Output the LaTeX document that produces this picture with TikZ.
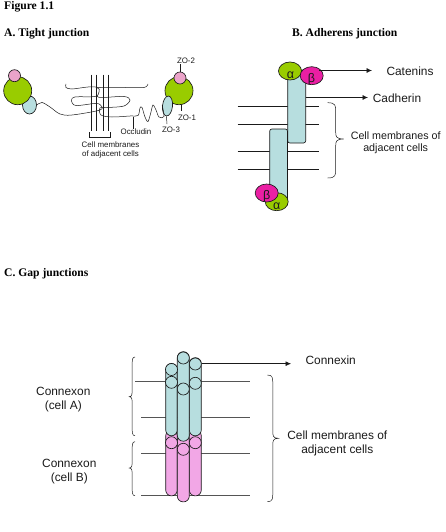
\documentclass[tikz,border=0pt]{standalone}
\usepackage{fontspec}
\setmainfont{Liberation Serif}
\newfontfamily\labelfont{Liberation Sans}
\usetikzlibrary{shapes.geometric,arrows.meta}
\definecolor{zogreen}{HTML}{99CC00}
\definecolor{zopink}{HTML}{EBA3C9}
\definecolor{palecyan}{HTML}{B7DEDF}
\definecolor{catmagenta}{HTML}{EA1FA3}
\definecolor{gappink}{HTML}{F2A7E6}
\definecolor{ink}{HTML}{1A1A1A}
\definecolor{softink}{HTML}{555555}
\tikzset{
  x=1pt,y=-1pt,
  line/.style={draw=ink,line width=0.65pt},
  thin line/.style={draw=ink,line width=0.5pt},
  pale line/.style={draw=softink,line width=0.7pt},
  heading/.style={font=\fontsize{11.6}{13}\selectfont\bfseries,anchor=west,inner sep=0pt},
  tiny/.style={font=\labelfont\fontsize{7.9}{9.2}\selectfont,inner sep=0pt,align=center,text=ink},
  big/.style={font=\labelfont\fontsize{11.9}{14}\selectfont,inner sep=0pt,align=center,text=ink},
  bigtight/.style={font=\labelfont\fontsize{10.7}{12.2}\selectfont,inner sep=0pt,align=center,text=ink},
  blob/.style={ellipse,line,inner sep=0pt,minimum width=#1*2pt},
  disc/.style={circle,line,inner sep=0pt,minimum size=#1*2pt},
  arrowline/.style={line,-{Latex[length=5.5pt,width=5pt]}},
  bar/.style={line,rounded corners=2.2pt,fill=palecyan},
  tube/.style={line,rounded corners=5.9pt},
  greek/.style={font=\labelfont\fontsize{12.5}{14}\selectfont,inner sep=0pt,text=ink},
}
% curly bracket: tips at (x0,y0) and (x0,y1), point at (xa,ya)
\newcommand{\curly}[5]{%
  \pgfmathsetmacro{\xm}{(#1+#3)/2}%
  \draw[thin line] (#1,#2) .. controls (\xm,#2) and (\xm,#2+3) .. (\xm,#2+9)
    -- (\xm,#4-7) .. controls (\xm,#4-3) and (\xm,#4) .. (#3,#4)
    .. controls (\xm,#4) and (\xm,#4+3) .. (\xm,#4+7)
    -- (\xm,#5-9) .. controls (\xm,#5-3) and (\xm,#5) .. (#1,#5);}
\begin{document}
\begin{tikzpicture}
\useasboundingbox (0,0) rectangle (445,532);

% Headings
\node[heading] (figtitle) at (4,7) {Figure 1.1};
\node[heading] (titleA) at (4,34) {A. Tight junction};
\node[heading] (titleB) at (292,34) {B. Adherens junction};
\node[heading] (titleC) at (4,274) {C. Gap junctions};

% ---------- Tight junction ----------
\node[blob=7,minimum height=18pt,fill=palecyan] (zo3L) at (29.5,105) {};
\node[disc=14,fill=zogreen] (zo1L) at (17.7,90.7) {};
\node[disc=6,fill=zopink] (zo2L) at (14.5,75.7) {};
\node[disc=14,fill=zogreen] (zo1R) at (179,90.7) {};
\node[disc=6,fill=zopink] (zo2R) at (180,78) {};
\node[blob=5,minimum height=20pt,fill=palecyan,rotate=-6] (zo3R) at (167.5,106) {};

\foreach \vx in {91.7,96,103,108}
  \draw[thin line] (\vx,74.7) -- (\vx,130.7);

% occludin strands
\draw[thin line] plot[smooth,tension=.55] coordinates {
  (zo3L.east) (42,102.5) (50,107) (60,114) (72,115) (100,110) (100.5,105)
  (95,103.5) (76,105.5) (71.5,101) (75,97) (95,96.5) (99,92) (98,87.5) (88,87) (72,89) (66,87.5) (66,84)};
\draw[thin line] plot[smooth,tension=.55] coordinates {
  (148,84) (144,87.5) (125,87.5) (100,87.5) (96.5,90) (97,96) (102,97.5) (124,96.5) (130,100)
  (124,106) (108,107.5) (100,108) (101,115) (112,117) (130,116) (138,115.5) (140,108)
  (142,107.5) (145,117) (148,121.5) (151,112) (153,105) (156,110) (159,117) (164,116.5) (zo3R.west)};

\draw[thin line] (89,132) -- (89,137) -- (110,137) -- (110,132);

\node[tiny] (zo2text) at (186,61) {ZO-2};
\node[tiny] (zo1text) at (187,118) {ZO-1};
\node[tiny] (zo3text) at (171,130) {ZO-3};
\node[tiny] (occtext) at (136,132) {Occludin};
\node[tiny] (memA) at (110.5,150) {Cell membranes\\of adjacent cells};
\coordinate (occ) at (133.5,116.5);
\draw[thin line] (occ) -- (occ |- occtext.north);
\draw[thin line] (zo2R.north) -- (zo2R.north |- zo2text.south);
\draw[thin line] (181,104.7) -- (181,111);
\draw[thin line] (zo3R.south) -- (167,124);

% ---------- Adherens junction ----------
\foreach \ly in {106.7,124.3,151.3,169.3}
  \draw[thin line] (237.7,\ly) -- (319.3,\ly);

\path[bar] (287.7,70) rectangle (305.7,143);
\path[bar] (269.7,129) rectangle (287.5,206);
\node[blob=11.5,minimum height=18pt,fill=zogreen] (alphaT) at (290,71) {};
\node[blob=11.5,minimum height=18pt,fill=catmagenta] (betaT) at (311.7,75.7) {};
\node[blob=11.5,minimum height=18pt,fill=zogreen] (alphaB) at (276.7,201.7) {};
\node[blob=11.5,minimum height=18pt,fill=catmagenta] (betaB) at (266.7,193) {};
\node[greek] (alphaTtext) at (290.5,75.5) {α};
\node[greek] (betaTtext) at (311.5,79.5) {β};
\node[greek] (alphaBtext) at (276.8,206.5) {α};
\node[greek] (betaBtext) at (266.7,196.5) {β};

\node[big] (catenins) at (410,71) {Catenins};
\node[big] (cadherin) at (397,98) {Cadherin};
\node[bigtight] (memB) at (395.7,143) {Cell membranes of\\adjacent cells};
\coordinate (catstart) at (319,70.5);
\coordinate (cadstart) at (305.7,97.5);
\draw[arrowline] (catstart) -- (372,70.5);
\draw[arrowline] (cadstart) -- (368,97.5);
\curly{327.7}{102.7}{343.7}{139}{178}

% ---------- Gap junctions ----------
\foreach \ly/\lx in {381.7/135,417.7/141,453.7/141,495.7/141}
  \draw[pale line] (\lx,\ly) -- (250,\ly);

% lower connexon
\path[tube,fill=gappink] (165.7,430) rectangle (177.3,495.9);
\path[tube,fill=gappink] (189.3,430) rectangle (201.3,495.9);
\path[tube,fill=gappink] (177.3,435) rectangle (189.3,501.9);
% upper connexon
\path[tube,fill=palecyan] (165.7,363.4) rectangle (177.3,435.8);
\path[tube,fill=palecyan] (189.3,357.7) rectangle (201.3,435.8);
\path[tube,fill=palecyan] (177.3,351.7) rectangle (189.3,441.2);
% connexin end caps
\foreach \nm/\cx/\cy/\col in {a/171.5/369.5/palecyan,b/195.3/364/palecyan,c/183.3/358/palecyan,
  d/171.5/382.3/palecyan,e/195.3/383.3/palecyan,f/183.3/389/palecyan,
  g/171.5/442.7/gappink,h/195.3/442.7/gappink,i/183.3/449.3/gappink}
  \node[disc=6,fill=\col] (cap\nm) at (\cx,\cy) {};

\node[big] (connexin) at (330.7,360) {Connexin};
\node[big] (cellA) at (63.3,399.3) {Connexon\\(cell A)};
\node[big] (cellB) at (69.3,471.3) {Connexon\\(cell B)};
\node[big] (memC) at (337.3,443) {Cell membranes of\\adjacent cells};
\draw[arrowline] (capb.east |- 0,363.7) -- (291,363.7);

\begin{scope}[xscale=-1]
  \curly{-135}{357}{-129.3}{396.7}{435.7}
  \curly{-135}{441.7}{-129.3}{468}{495.7}
\end{scope}
\curly{267.3}{375}{278.3}{438.3}{501.7}
\end{tikzpicture}
\end{document}
